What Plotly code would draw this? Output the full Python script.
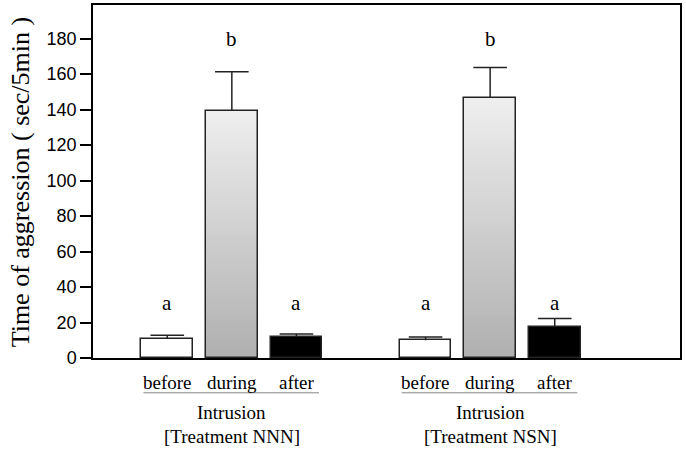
import plotly.graph_objects as go

# ---- data ----
conditions = ["before", "during", "after", "before", "during", "after"]
positions = [0, 1, 2, 4, 5, 6]
values = [10.8, 139.5, 11.8, 10.0, 146.6, 17.6]
errors = [2.0, 21.8, 1.8, 1.8, 17.2, 4.7]
letters = ["a", "b", "a", "a", "b", "a"]
letter_y = [31, 180, 31, 31, 180, 31]
group_centers = [1, 5]
group_lines = [("Intrusion", "[Treatment NNN]"), ("Intrusion", "[Treatment NSN]")]
y_ticks = [0, 20, 40, 60, 80, 100, 120, 140, 160, 180]

SERIF = "Liberation Serif, Times New Roman, serif"
SANS = "Liberation Sans, Arial, sans-serif"
BW = 0.8

fig = go.Figure()

# gradient fill for "during" bars (stacked thin segments via base)
N = 60
top_c = (0xee, 0xee, 0xee)
bot_c = (0xb0, 0xb0, 0xb0)
for x, v, c in zip(positions, values, conditions):
    if c == "during":
        seg = v / N
        xs, ys, bs, cols = [], [], [], []
        for i in range(N):
            f = i / (N - 1)
            col = tuple(int(round(bot_c[k] + (top_c[k] - bot_c[k]) * f)) for k in range(3))
            xs.append(x)
            ys.append(seg * 1.02 if i < N - 1 else seg)
            bs.append(seg * i)
            cols.append("rgb(%d,%d,%d)" % col)
        fig.add_trace(go.Bar(x=xs, y=ys, base=bs, width=BW,
                             marker=dict(color=cols, line=dict(width=0)),
                             hoverinfo="skip", showlegend=False))

fill = []
for c in conditions:
    if c == "before":
        fill.append("white")
    elif c == "after":
        fill.append("black")
    else:
        fill.append("rgba(0,0,0,0)")

# bars with upward error stems (no caps)
fig.add_trace(go.Bar(
    x=positions, y=values, width=BW,
    marker=dict(color=fill, line=dict(color="#222", width=1.5)),
    error_y=dict(type="data", symmetric=False, array=errors,
                 arrayminus=[0] * len(errors), color="#222",
                 thickness=1.5, width=0),
    showlegend=False,
))

# error caps
fig.add_trace(go.Scatter(
    x=positions, y=[v + e for v, e in zip(values, errors)], mode="markers",
    marker=dict(symbol="line-ew", size=24, line=dict(color="#222", width=1.5)),
    showlegend=False, hoverinfo="skip",
))

# significance letters
for x, t, ly in zip(positions, letters, letter_y):
    fig.add_annotation(x=x, y=ly, xref="x", yref="y", text=t, showarrow=False,
                       font=dict(family=SERIF, size=21, color="black"))

# condition labels
for x, t in zip(positions, conditions):
    fig.add_annotation(x=x, y=-0.07, xref="x", yref="paper", text=t, showarrow=False,
                       yanchor="middle", font=dict(family=SERIF, size=19, color="black"))

# group underline + group labels
for gc, (l1, l2) in zip(group_centers, group_lines):
    fig.add_shape(type="line", xref="x", yref="paper",
                  x0=gc - 1.37, x1=gc + 1.35, y0=-0.0986, y1=-0.0986,
                  line=dict(color="#888", width=1))
    fig.add_annotation(x=gc, y=-0.155, xref="x", yref="paper", text=l1, showarrow=False,
                       yanchor="middle", font=dict(family=SERIF, size=19, color="black"))
    fig.add_annotation(x=gc, y=-0.223, xref="x", yref="paper", text=l2, showarrow=False,
                       yanchor="middle", font=dict(family=SERIF, size=19, color="black"))

# y title
fig.add_annotation(x=-0.123, y=0.5, xref="paper", yref="paper",
                   text="Time of aggression ( sec/5min )", textangle=-90,
                   showarrow=False, xanchor="center", yanchor="middle",
                   font=dict(family=SERIF, size=26, color="black"))

fig.update_layout(
    width=686, height=449,
    margin=dict(l=93, r=6, t=3, b=91),
    barmode="overlay",
    paper_bgcolor="white", plot_bgcolor="white",
    bargap=0,
)
fig.update_xaxes(range=[-1.15, 7.94], showticklabels=False, ticks="",
                 showgrid=False, zeroline=False,
                 showline=True, linecolor="black", linewidth=1.5, mirror=True)
fig.update_yaxes(range=[0, 199], tickvals=y_ticks, ticks="outside", ticklen=11,
                 tickwidth=1.5, tickcolor="black", showgrid=False, zeroline=False,
                 showline=True, linecolor="black", linewidth=1.5, mirror=True,
                 tickfont=dict(family=SANS, size=18, color="black"))

fig.write_html("out.html", config={"displayModeBar": False},
               post_script="document.body.style.margin='0';")
